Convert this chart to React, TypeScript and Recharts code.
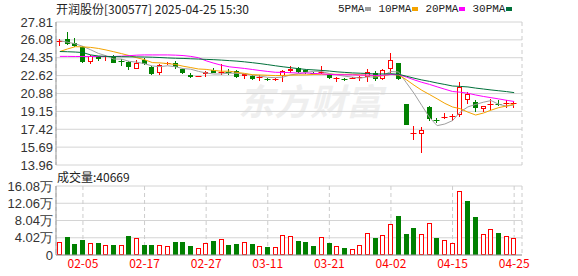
import React from 'react';
import { ComposedChart, Bar, Line, XAxis, YAxis, CartesianGrid } from 'recharts';

const dates = [
  '01-23', '01-24', '01-27', '02-05', '02-06', '02-07', '02-10', '02-11', '02-12', '02-13',
  '02-14', '02-17', '02-18', '02-19', '02-20', '02-21', '02-24', '02-25', '02-26', '02-27',
  '02-28', '03-03', '03-04', '03-05', '03-06', '03-07', '03-10', '03-11', '03-12', '03-13',
  '03-14', '03-17', '03-18', '03-19', '03-20', '03-21', '03-24', '03-25', '03-26', '03-27',
  '03-28', '03-31', '04-01', '04-02', '04-03', '04-07', '04-08', '04-09', '04-10', '04-11',
  '04-14', '04-15', '04-16', '04-17', '04-18', '04-21', '04-22', '04-23', '04-24', '04-25',
];

const opens = [
  25.98, 26.16, 25.75, 25.42, 23.97, 24.45, 24.45, 24.45, 24.0, 23.97,
  23.29, 24.13, 23.48, 22.84, 23.7, 23.87, 23.23, 22.68, 22.5, 22.77,
  23.16, 22.9, 22.95, 23.1, 22.58, 22.61, 22.45, 22.3, 22.2, 22.58,
  23.1, 23.33, 23.16, 22.9, 22.85, 22.7, 22.35, 22.28, 22.38, 22.4,
  22.5, 22.85, 22.25, 23.25, 23.8, 19.87, 17.05, 16.93, 19.6, 18.3,
  18.55, 18.65, 18.8, 20.25, 20.09, 19.38, 19.8, 19.9, 19.9, 19.9,
];
const highs = [
  26.16, 26.85, 26.29, 25.5, 24.6, 24.55, 24.6, 24.6, 24.2, 24.05,
  24.13, 24.29, 23.55, 23.7, 23.9, 24.03, 23.3, 22.84, 22.62, 23.05,
  23.33, 23.74, 23.23, 23.15, 22.8, 22.65, 22.68, 22.4, 22.35, 23.2,
  23.55, 23.5, 23.2, 23.0, 23.55, 22.75, 22.45, 22.35, 22.45, 22.6,
  23.25, 23.05, 23.3, 24.85, 23.87, 19.87, 17.74, 17.6, 19.7, 18.55,
  19.0, 18.9, 22.03, 21.06, 20.26, 19.7, 20.32, 20.26, 20.26, 20.15,
];
const lows = [
  25.51, 25.55, 25.4, 23.8, 23.71, 24.06, 24.0, 23.8, 23.58, 23.16,
  23.23, 23.64, 22.7, 22.68, 23.6, 23.23, 22.74, 22.36, 22.45, 22.51,
  22.84, 22.68, 22.68, 22.4, 22.26, 22.2, 22.13, 22.13, 22.1, 22.0,
  22.9, 22.84, 22.77, 22.75, 22.77, 22.3, 22.0, 22.1, 22.35, 22.05,
  22.0, 22.05, 22.15, 22.9, 22.15, 17.8, 16.38, 15.15, 18.2, 18.0,
  18.4, 18.25, 18.64, 19.87, 19.12, 19.12, 19.29, 19.7, 19.45, 19.5,
];
const closes = [
  26.0, 25.65, 25.51, 23.96, 24.49, 24.26, 24.5, 23.88, 23.95, 23.42,
  23.87, 23.74, 22.77, 23.65, 23.8, 23.42, 22.84, 22.51, 22.58, 23.0,
  22.9, 22.93, 22.88, 22.45, 22.77, 22.26, 22.5, 22.25, 22.3, 23.1,
  23.3, 23.0, 22.94, 22.85, 22.95, 22.35, 22.38, 22.25, 22.42, 22.45,
  23.0, 22.25, 23.2, 24.15, 22.25, 17.8, 17.09, 17.35, 18.38, 18.25,
  18.6, 18.7, 21.55, 20.84, 19.45, 19.67, 19.87, 19.85, 19.95, 20.0,
];
const volumes = [
  29600, 42000, 25600, 35000, 27000, 28000, 23300, 23300, 23300, 44300,
  39600, 23300, 23300, 22500, 21000, 30300, 30300, 21000, 16300, 27000,
  32600, 36500, 23300, 25600, 29600, 25600, 21000, 18600, 18600, 46000,
  43500, 32600, 30300, 21000, 42000, 28000, 21000, 16300, 13300, 22500,
  50500, 39600, 46000, 71500, 91000, 49000, 63000, 48200, 73800, 39600,
  34200, 27000, 149000, 126000, 88600, 48200, 60600, 51300, 43500, 40669,
];
const ma5 = [
  26.0, 25.85, 25.7, 25.45, 25.12, 24.77, 24.54, 24.22, 24.22, 24.0,
  23.92, 23.77, 23.55, 23.49, 23.57, 23.48, 23.3, 23.24, 23.03, 22.87,
  22.77, 22.78, 22.86, 22.83, 22.79, 22.66, 22.57, 22.45, 22.42, 22.48,
  22.69, 22.79, 22.93, 23.04, 23.01, 22.82, 22.69, 22.56, 22.47, 22.37,
  22.5, 22.47, 22.66, 23.01, 22.97, 21.93, 20.9, 19.73, 18.57, 17.77,
  17.93, 18.26, 19.1, 19.59, 19.83, 20.04, 20.2, 19.84, 19.66, 19.77,
];
const ma10 = [
  24.95, 25.2, 25.42, 25.4, 25.35, 25.25, 25.1, 24.93, 24.75, 24.56,
  24.35, 24.16, 23.88, 23.85, 23.78, 23.7, 23.53, 23.4, 23.26, 23.22,
  23.12, 23.04, 23.05, 22.93, 22.83, 22.71, 22.68, 22.65, 22.62, 22.63,
  22.67, 22.68, 22.69, 22.73, 22.75, 22.75, 22.74, 22.74, 22.75, 22.69,
  22.66, 22.58, 22.61, 22.74, 22.67, 22.22, 21.69, 21.2, 20.79, 20.37,
  19.93, 19.58, 19.41, 19.08, 18.8, 18.99, 19.27, 19.52, 19.67, 19.85,
];
const ma20 = [
  24.48, 24.48, 24.47, 24.47, 24.47, 24.47, 24.47, 24.47, 24.5, 24.55,
  24.6, 24.62, 24.62, 24.62, 24.62, 24.6, 24.56, 24.48, 24.35, 24.05,
  23.82, 23.62, 23.47, 23.39, 23.31, 23.21, 23.11, 23.02, 22.94, 22.93,
  22.9, 22.86, 22.87, 22.83, 22.79, 22.73, 22.71, 22.7, 22.69, 22.66,
  22.67, 22.63, 22.65, 22.73, 22.71, 22.48, 22.21, 21.97, 21.77, 21.53,
  21.3, 21.08, 21.01, 20.91, 20.74, 20.6, 20.48, 20.36, 20.23, 20.11,
];
const ma30 = [
  24.95, 24.93, 24.9, 24.85, 24.62, 24.52, 24.48, 24.46, 24.45, 24.44,
  24.43, 24.42, 24.4, 24.37, 24.33, 24.3, 24.28, 24.25, 24.22, 24.19,
  24.16, 24.12, 24.07, 24.02, 23.95, 23.87, 23.78, 23.68, 23.57, 23.47,
  23.38, 23.29, 23.21, 23.17, 23.12, 23.06, 22.98, 22.93, 22.88, 22.85,
  22.82, 22.77, 22.78, 22.8, 22.75, 22.56, 22.37, 22.2, 22.06, 21.9,
  21.76, 21.61, 21.57, 21.52, 21.41, 21.32, 21.23, 21.15, 21.07, 20.97,
];

const priceTicks = [13.96, 15.69, 17.42, 19.15, 20.88, 22.62, 24.35, 26.08, 27.81];
const volumeTicks = [0, 40200, 80400, 120600, 160800];
const dateTicks = ['02-05', '02-17', '02-27', '03-11', '03-21', '04-02', '04-15', '04-25'];
const maNames = ['5PMA', '10PMA', '20PMA', '30PMA'];
const maKeys = ['ma5', 'ma10', 'ma20', 'ma30'];
const title = '开润股份[300577] 2025-04-25 15:30';
const volumeLabel = '成交量';

const RED = '#ff0000';
const GREEN = '#008000';
const MA_COLORS = ['#a0a0a0', '#f4a300', '#ff00ff', '#00703a'];
const BORDER = '#999999';
const GRID = '#d4d4d4';

const data = dates.map((d, i) => ({
  date: d,
  open: opens[i],
  high: highs[i],
  low: lows[i],
  close: closes[i],
  range: [lows[i], highs[i]],
  volume: volumes[i],
  volUp: i === 0 ? closes[i] >= opens[i] : closes[i] >= closes[i - 1],
  ma5: ma5[i],
  ma10: ma10[i],
  ma20: ma20[i],
  ma30: ma30[i],
}));

function Candle(props: any) {
  const { x, y, width, height, payload } = props;
  if (!payload) return null;
  const { open, close, high, low } = payload;
  const top = Math.min(y, y + height);
  const h = Math.abs(height);
  const span = high - low;
  const toY = (v: number) => (span > 0 ? top + ((high - v) / span) * h : top);
  const cx = Math.floor(x + width / 2) + 0.5;
  const up = close >= open;
  const color = up ? RED : GREEN;
  const yH = Math.round(toY(high));
  const yL = Math.round(toY(low));
  const yT = Math.round(toY(Math.max(open, close)));
  const yB = Math.round(toY(Math.min(open, close)));
  if (yB - yT < 2) {
    return (
      <g>
        <line x1={cx} x2={cx} y1={yH} y2={Math.max(yL, yH + 1)} stroke={color} />
        <line x1={cx - 3} x2={cx + 3} y1={yT + 0.5} y2={yT + 0.5} stroke={color} />
      </g>
    );
  }
  if (up) {
    return (
      <g>
        <line x1={cx} x2={cx} y1={yH} y2={yT} stroke={color} />
        <line x1={cx} x2={cx} y1={yB} y2={yL} stroke={color} />
        <rect x={cx - 2} y={yT + 0.5} width={4} height={yB - yT - 1} fill="#fff" stroke={color} />
      </g>
    );
  }
  return (
    <g>
      <line x1={cx} x2={cx} y1={yH} y2={yL} stroke={color} />
      <rect x={cx - 2.5} y={yT} width={5} height={yB - yT} fill={color} />
    </g>
  );
}

function VolBar(props: any) {
  const { x, y, width, height, payload } = props;
  if (!payload) return null;
  const cx = Math.floor(x + width / 2) + 0.5;
  const t = Math.round(Math.min(y, y + height));
  const b = Math.round(Math.max(y, y + height));
  if (payload.volUp) {
    return <rect x={cx - 2} y={t + 0.5} width={4} height={Math.max(b - t - 1, 0)} fill="#fff" stroke={RED} />;
  }
  return <rect x={cx - 2.5} y={t} width={5} height={b - t} fill={GREEN} />;
}

const axisFont = { fontFamily: 'Liberation Sans, Arial, sans-serif', fontSize: 13, fill: '#333' };
const cjk = '"Noto Sans CJK SC", sans-serif';

function fmtVol(v: number) {
  if (v === 0) return '0';
  return (v / 10000).toFixed(2) + '万';
}

export default function App() {
  return (
    <div style={{ position: 'absolute', left: 0, top: 0, width: 578, height: 276, background: '#fff', overflow: 'hidden' }}>
      <div
        style={{
          position: 'absolute', left: 238, top: 76, fontSize: 36, fontWeight: 'bold', fontStyle: 'italic',
          color: '#efefef', fontFamily: cjk, lineHeight: '46px', letterSpacing: 0,
        }}
      >
        东方财富
      </div>
      <div style={{ position: 'absolute', left: 56, top: 0, height: 18, lineHeight: '18px', fontSize: 12, fontFamily: cjk, color: '#222', whiteSpace: 'nowrap' }}>
        {title}
      </div>
      <div style={{ position: 'absolute', left: 338, top: 0, height: 18, display: 'flex', alignItems: 'center' }}>
        {maNames.map((n, i) => (
          <div key={n} style={{ display: 'flex', alignItems: 'center', marginRight: 7 }}>
            <span style={{ fontFamily: 'Liberation Mono, monospace', fontSize: 11, color: '#222', lineHeight: '18px' }}>{n}</span>
            <span style={{ display: 'inline-block', width: 6, height: 4, background: MA_COLORS[i], marginLeft: 1 }} />
          </div>
        ))}
      </div>
      <div style={{ position: 'absolute', left: 57, top: 168, height: 18, lineHeight: '18px', fontSize: 12, fontFamily: cjk, color: '#222', whiteSpace: 'nowrap' }}>
        {volumeLabel}:{volumes[volumes.length - 1]}
      </div>

      <div style={{ position: 'absolute', left: 0, top: 170 }}>
        <ComposedChart width={578} height={106} data={data} margin={{ top: 16, right: 56, bottom: 0, left: 0 }}>
          <CartesianGrid vertical={false} stroke={GRID} />
          <CartesianGrid horizontal={false} stroke="#cccccc" strokeDasharray="4 3" />
          <XAxis dataKey="date" ticks={dateTicks} interval={0} tickLine={false} tickSize={0} tickMargin={4} height={21}
            axisLine={{ stroke: BORDER }} padding={{ left: 0, right: 4 }}
            tick={{ fontFamily: cjk, fontSize: 12, fill: RED }} />
          <XAxis xAxisId="top" dataKey="date" orientation="top" tick={false} tickLine={false} height={0}
            axisLine={{ stroke: BORDER }} padding={{ left: 0, right: 4 }} />
          <YAxis domain={[0, 160800]} allowDataOverflow ticks={volumeTicks} interval={0} width={56}
            tickSize={0} tickMargin={3} tickLine={false} axisLine={{ stroke: BORDER }}
            tick={axisFont} tickFormatter={fmtVol} />
          <YAxis yAxisId="right" orientation="right" width={0} tick={false} tickLine={false} axisLine={{ stroke: BORDER }} />
          <Bar dataKey="volume" barSize={5} shape={<VolBar />} isAnimationActive={false} />
        </ComposedChart>
      </div>

      <div style={{ position: 'absolute', left: 0, top: 0 }}>
        <ComposedChart width={578} height={176} data={data} margin={{ top: 22, right: 56, bottom: 11, left: 0 }}>
          <CartesianGrid vertical={false} stroke={GRID} />
          <CartesianGrid horizontal={false} stroke="#cccccc" strokeDasharray="4 3" />
          <XAxis dataKey="date" ticks={dateTicks} interval={0} tick={false} tickLine={false} height={0}
            axisLine={{ stroke: BORDER }} padding={{ left: 0, right: 4 }} />
          <XAxis xAxisId="top" dataKey="date" orientation="top" tick={false} tickLine={false} height={0}
            axisLine={{ stroke: BORDER }} padding={{ left: 0, right: 4 }} />
          <YAxis domain={[13.96, 27.81]} allowDataOverflow ticks={priceTicks} interval={0} width={56}
            tickSize={0} tickMargin={3} tickLine={false} axisLine={{ stroke: BORDER }}
            tick={axisFont} tickFormatter={(v: number) => v.toFixed(2)} />
          <YAxis yAxisId="right" orientation="right" width={0} tick={false} tickLine={false} axisLine={{ stroke: BORDER }} />
          <Bar dataKey="range" barSize={5} shape={<Candle />} isAnimationActive={false} />
          {maKeys.map((k, i) => (
            <Line key={k} type="linear" dataKey={k} stroke={MA_COLORS[i]} strokeWidth={1} dot={false}
              activeDot={false} isAnimationActive={false} />
          ))}
        </ComposedChart>
      </div>
    </div>
  );
}
